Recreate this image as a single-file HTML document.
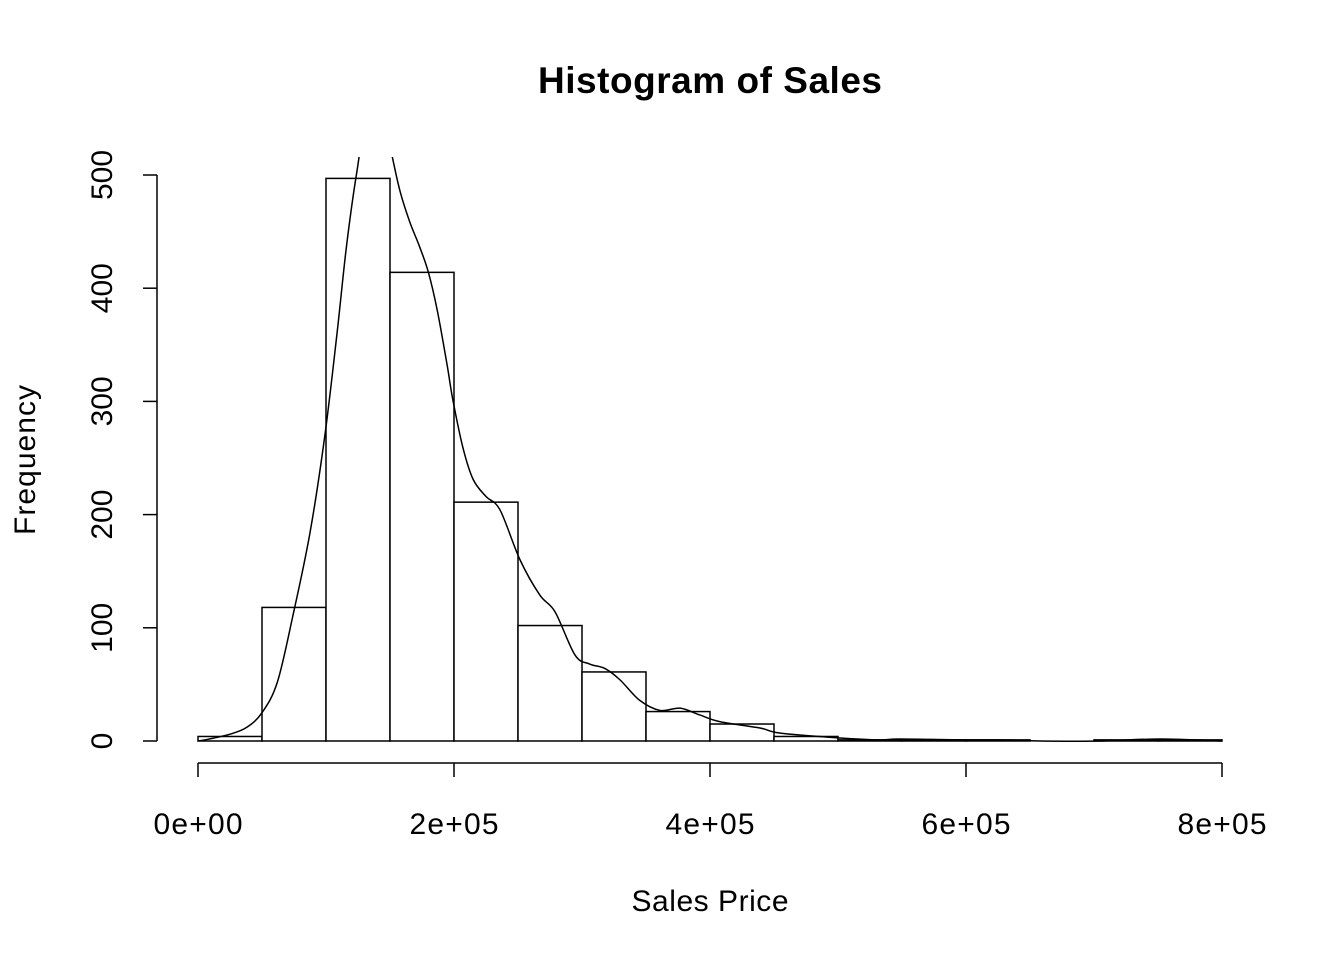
<!DOCTYPE html>
<html><head><meta charset="utf-8"><style>
body{margin:0;background:#fff}
svg{display:block;font-family:"Liberation Sans",Arial,sans-serif}
</style></head><body>
<svg width="1344" height="960" xmlns="http://www.w3.org/2000/svg">
<defs><clipPath id="plotclip"><rect x="157" y="157" width="1106" height="606"/></clipPath></defs>
<text x="710" y="93" text-anchor="middle" font-size="37" font-weight="bold" textLength="344">Histogram of Sales</text>
<text x="710" y="911" text-anchor="middle" font-size="30" textLength="157">Sales Price</text>
<text transform="translate(35,460) rotate(-90)" text-anchor="middle" font-size="30" textLength="150">Frequency</text>
<g id="bars"></g>
<g id="axes"></g>
<path id="density" fill="none" stroke="#000" stroke-width="1.5" clip-path="url(#plotclip)"/>
</svg>
<script>
const binStarts=[0,50000,100000,150000,200000,250000,300000,350000,400000,450000,500000,550000,600000,650000,700000,750000];
const binWidth=50000;
const counts=[4,118,497,414,211,102,61,26,15,4,1,1,1,0,1,1];
const xTicks=[0,200000,400000,600000,800000];
const xTickLabels=["0e+00","2e+05","4e+05","6e+05","8e+05"];
const yTicks=[0,100,200,300,400,500];
const yTickLabels=["0","100","200","300","400","500"];
const densX=[0,7800,25000,38000,50000,62000,74000,87500,99000,108600,116000,124000,138000,151600,158000,165600,173000,180000,187000,194500,199000,207000,215000,225000,236000,251600,267000,279000,294500,306000,318000,329700,345000,361000,376600,392000,408000,439000,455000,501600,533000,548000,595000,626600,658000,705000,751600,800000];
const densY=[0,1.5,6,12,25,52,110,184,269,360,437,502,590,517,485,458,437,414,380,333,302,259,231,216,204,160,129,114,76,68,64,54,36,27,29,23,17,11.5,7,2.7,1,1.8,1,1,0,0,1.8,0];
const NS="http://www.w3.org/2000/svg";
const X=v=>198+v*1024/800000;
const Y=v=>741-v*566/500;
function mk(tag,attrs,parent){const e=document.createElementNS(NS,tag);for(const k in attrs)e.setAttribute(k,attrs[k]);parent.appendChild(e);return e;}
const bars=document.getElementById('bars');
binStarts.forEach((b,i)=>{
  const r=mk('rect',{x:X(b),y:Y(counts[i]),width:X(b+binWidth)-X(b),height:Y(0)-Y(counts[i]),fill:'#fff',stroke:'#000','stroke-width':1.5},bars);
  
  
});
const axes=document.getElementById('axes');
mk('line',{x1:X(xTicks[0]),x2:X(xTicks[xTicks.length-1]),y1:763,y2:763,stroke:'#000','stroke-width':1.5},axes);
xTicks.forEach((t,i)=>{
  mk('line',{x1:X(t),x2:X(t),y1:763,y2:777,stroke:'#000','stroke-width':1.5},axes);
  const tx=mk('text',{x:X(t),y:834,'text-anchor':'middle','font-size':30,textLength:89},axes);
  tx.textContent=xTickLabels[i];
  
  
});
mk('line',{x1:157,x2:157,y1:Y(yTicks[0]),y2:Y(yTicks[yTicks.length-1]),stroke:'#000','stroke-width':1.5},axes);
yTicks.forEach((t,i)=>{
  mk('line',{x1:143,x2:157,y1:Y(t),y2:Y(t),stroke:'#000','stroke-width':1.5},axes);
  const tx=mk('text',{transform:`translate(112,${Y(t)}) rotate(-90)`,'text-anchor':'middle','font-size':30},axes);
  tx.textContent=yTickLabels[i];
  
  
});
const pts=densX.map((x,i)=>[X(x),Y(densY[i])]);
let d=`M${pts[0][0]},${pts[0][1]}`;
for(let i=0;i<pts.length-1;i++){
  const p0=pts[Math.max(0,i-1)],p1=pts[i],p2=pts[i+1],p3=pts[Math.min(pts.length-1,i+2)];
  const c1=[p1[0]+(p2[0]-p0[0])/6,p1[1]+(p2[1]-p0[1])/6];
  const c2=[p2[0]-(p3[0]-p1[0])/6,p2[1]-(p3[1]-p1[1])/6];
  d+=` C${c1[0]},${c1[1]} ${c2[0]},${c2[1]} ${p2[0]},${p2[1]}`;
}
document.getElementById('density').setAttribute('d',d);
</script>
</body></html>
